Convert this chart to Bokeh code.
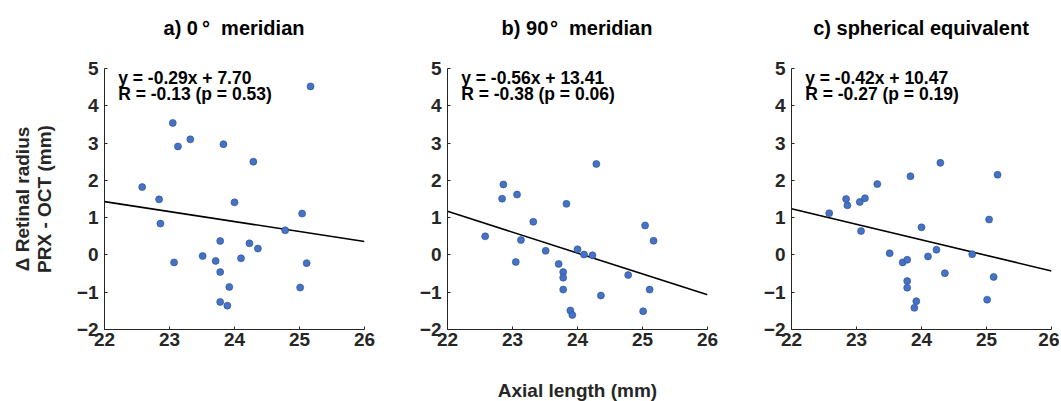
import numpy as np
from bokeh.plotting import figure
from bokeh.layouts import row, column
from bokeh.models import Label, Range1d, FixedTicker, Div
from bokeh.embed import file_html
from bokeh.resources import INLINE

# ---- data ----
axial_length = [22.58, 22.84, 22.86, 23.05, 23.07, 23.13, 23.32, 23.51, 23.71, 23.78,
                23.78, 23.78, 23.83, 23.89, 23.92, 24.00, 24.10, 24.23, 24.29, 24.36,
                24.78, 25.01, 25.04, 25.11, 25.17]
d_meridian_0 = [1.82, 1.49, 0.84, 3.54, -0.20, 2.91, 3.10, -0.03, -0.16, 0.375,
                -0.46, -1.26, 2.97, -1.36, -0.86, 1.41, -0.09, 0.31, 2.50, 0.17,
                0.66, -0.875, 1.11, -0.22, 4.52]
d_meridian_90 = [0.50, 1.51, 1.89, -0.19, 1.62, 0.40, 0.89, 0.11, -0.24, -0.46,
                 -0.61, -0.93, 1.37, -1.49, -1.61, 0.15, 0.01, -0.01, 2.44, -1.09,
                 -0.54, -1.51, 0.79, -0.93, 0.38]
d_spherical = [1.12, 1.50, 1.33, 1.42, 0.64, 1.52, 1.90, 0.045, -0.20, -0.13,
               -0.70, -0.88, 2.11, -1.42, -1.24, 0.74, -0.04, 0.14, 2.47, -0.49,
               0.02, -1.20, 0.95, -0.59, 2.15]

titles = ["a) 0\u2009\u00b0\u00a0\u00a0meridian", "b) 90\u200a\u00b0\u00a0\u00a0meridian",
          "c) spherical equivalent"]
equations = ["y = -0.29x + 7.70", "y = -0.56x + 13.41", "y = -0.42x + 10.47"]
r_texts = ["R = -0.13 (p = 0.53)", "R = -0.38 (p = 0.06)", "R = -0.27 (p = 0.19)"]
fit_x = [22, 26]
fit_y = [[1.43, 0.36], [1.17, -1.07], [1.24, -0.43]]
x_ticks = [22, 23, 24, 25, 26]
y_ticks = [-2, -1, 0, 1, 2, 3, 4, 5]

TXT = "#262626"
FONT = "Liberation Sans"
TITLE_H = 40

series = [d_meridian_0, d_meridian_90, d_spherical]
borders = [(104, 39), (44, 40), (44, 8)]

figs = []
frame_centers = []
x0 = 0
for i in range(3):
    bl, br = borders[i]
    frame_centers.append(x0 + bl + 130)
    x0 += bl + 260 + br
    p = figure(frame_width=260, frame_height=261, min_border_left=bl, min_border_right=br,
               min_border_top=68 - TITLE_H, min_border_bottom=70,
               x_range=Range1d(22, 26), y_range=Range1d(-2, 5),
               output_backend="svg", toolbar_location=None)
    p.outline_line_color = None
    p.xgrid.visible = False
    p.ygrid.visible = False
    p.background_fill_color = "white"
    p.border_fill_color = "white"
    for ax, ticks in ((p.xaxis, x_ticks), (p.yaxis, y_ticks)):
        ax.ticker = FixedTicker(ticks=ticks)
        ax.axis_line_color = TXT
        ax.major_tick_line_color = TXT
        ax.major_tick_in = 3
        ax.major_tick_out = 0
        ax.minor_tick_line_color = None
        ax.major_label_text_font = FONT
        ax.major_label_text_font_size = "19px"
        ax.major_label_text_font_style = "bold"
        ax.major_label_text_color = TXT
        ax.axis_label_text_font = FONT
        ax.axis_label_text_font_size = "19px"
        ax.axis_label_text_font_style = "bold"
        ax.axis_label_text_color = TXT
    p.xaxis.major_label_standoff = 3
    p.yaxis.major_label_standoff = 6

    p.line(fit_x, fit_y[i], line_color="black", line_width=1.6)
    p.scatter(axial_length, series[i], size=7, fill_color="#4472C4",
              line_color="#2b4e8c", line_width=0.6)

    p.add_layout(Label(x=22.21, y=5, text=equations[i], text_baseline="top",
                       y_offset=1, text_font=FONT, text_font_size="17.5px",
                       text_font_style="bold", text_color="black"))
    p.add_layout(Label(x=22.21, y=5, text=r_texts[i], text_baseline="top",
                       y_offset=-15.5, text_font=FONT, text_font_size="17.5px",
                       text_font_style="bold", text_color="black"))
    figs.append(p)

figs[0].yaxis.axis_label = "\u0394 Retinal radius\nPRX - OCT (mm)"
figs[0].yaxis.axis_label_standoff = 19
figs[0].yaxis.axis_label_text_line_height = 1.05
figs[1].xaxis.axis_label = "Axial length (mm)"
figs[1].xaxis.axis_label_standoff = 31

spans = "".join(
    f'<span style="position:absolute;left:{c}px;top:18px;transform:translateX(-50%);'
    f'white-space:nowrap;">{t}</span>'
    for c, t in zip(frame_centers, titles))
title_html = (f'<div style="position:relative;width:{x0}px;height:{TITLE_H}px;'
              f'font-family:\'{FONT}\';font-size:20px;font-weight:bold;line-height:20px;'
              f'color:black;margin:0;padding:0;">{spans}</div>')
title_div = Div(text=title_html, width=x0, height=TITLE_H, margin=(0, 0, 0, 0))

layout = column(title_div, row(*figs))
open("out.html", "w").write(file_html(layout, INLINE))
